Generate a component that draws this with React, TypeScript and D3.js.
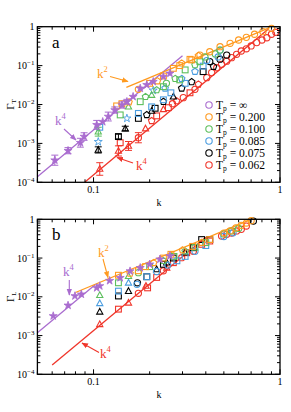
import React from "react";
import * as d3 from "d3";

const W = 291;
const H = 412;
const LEFT = 37.4;
const RIGHT = 280;
const PANELS = [
  { top: 26.7, bottom: 182.3, letter: "a", ylab: "T" },
  { top: 219.3, bottom: 374.3, letter: "b", ylab: "L" },
];

const legendLabels = ["∞", "0.200", "0.100", "0.085", "0.075", "0.062"];
const colors = ["#a96ccf", "#ff9a1f", "#5cbf5c", "#4a9de0", "#000000", "#f0352a"];

// ---- panel a ----
const kPurpleA = [0.062, 0.073, 0.085, 0.089, 0.104, 0.112, 0.12, 0.13, 0.142, 0.151, 0.163, 0.178, 0.193, 0.209, 0.237, 0.257];
const gPurpleA = [3.7e-4, 6.5e-4, 1.04e-3, 1.5e-3, 3.0e-3, 3.6e-3, 4.9e-3, 7.2e-3, 9.7e-3, 0.0118, 0.0159, 0.026, 0.032, 0.0386, 0.052, 0.063];
const sPurpleA = "xxxxxxxxxxxxxxxx";
const ePurpleA = [1.35, 1.2, 1.3, 1.25, 1.3, 0, 1.3, 1.2, 1.2, 1.15, 0, 0, 0, 0, 0, 0];

const kOrangeA = [0.133, 0.142, 0.155, 0.174, 0.2, 0.22, 0.237, 0.268, 0.29, 0.297, 0.329, 0.336, 0.365, 0.372, 0.42, 0.477, 0.54, 0.6, 0.66, 0.73, 0.81, 0.9];
const gOrangeA = [9.2e-3, 0.0105, 0.0115, 0.0245, 0.035, 0.04, 0.054, 0.085, 0.1, 0.115, 0.145, 0.14, 0.18, 0.187, 0.227, 0.306, 0.374, 0.455, 0.533, 0.64, 0.745, 0.91];
const sOrangeA = "sspcspssspsspccccccccc";

const kGreenA = [0.106, 0.139, 0.154, 0.178, 0.19, 0.205, 0.218, 0.237, 0.246, 0.274, 0.29, 0.31, 0.35, 0.372, 0.396, 0.45, 0.477];
const gGreenA = [2.0e-3, 5.4e-3, 8.8e-3, 0.0118, 0.0158, 0.0175, 0.0236, 0.0287, 0.035, 0.046, 0.043, 0.0775, 0.104, 0.126, 0.167, 0.2, 0.25];
const sGreenA = "tstsptpscpsspsccc";
const eGreenA = [1.3];

const kBlueA = [0.106, 0.108, 0.151, 0.174, 0.205, 0.209, 0.237, 0.242, 0.26, 0.297, 0.31, 0.35, 0.387, 0.405, 0.466, 0.477];
const gBlueA = [1.1e-3, 2.6e-3, 4.4e-3, 5.9e-3, 8.7e-3, 0.023, 0.0132, 0.026, 0.02, 0.046, 0.035, 0.07, 0.097, 0.135, 0.167, 0.25];
const sBlueA = "ysyssyspspspsccc";

const kBlackA = [0.106, 0.136, 0.148, 0.174, 0.193, 0.205, 0.214, 0.237, 0.268, 0.297, 0.336, 0.387, 0.42, 0.44, 0.477, 0.518];
const gBlackA = [6.8e-4, 1.5e-3, 2.4e-3, 4.4e-3, 5.4e-3, 6.8e-3, 8e-3, 0.0118, 0.0158, 0.026, 0.038, 0.07, 0.127, 0.094, 0.146, 0.187];
const sBlackA = "tstsptsptppscpcc";
const eBlackA = [1.2, 1.15, 1.15];

const kRedA = [0.108, 0.136, 0.139, 0.154, 0.174, 0.19, 0.205, 0.218, 0.237, 0.252, 0.265, 0.279, 0.303, 0.329, 0.35, 0.365, 0.405, 0.43, 0.458, 0.486, 0.518, 0.55, 0.585, 0.62, 0.66, 0.7, 0.75, 0.8, 0.85, 0.9, 0.95];
const gRedA = [2.2e-4, 6.4e-4, 1.04e-3, 8.6e-4, 1.4e-3, 2.4e-3, 3.8e-3, 5.1e-3, 7.5e-3, 8.3e-3, 0.0105, 0.0123, 0.015, 0.02, 0.0245, 0.033, 0.049, 0.066, 0.088, 0.108, 0.13, 0.16, 0.195, 0.237, 0.27, 0.32, 0.39, 0.455, 0.52, 0.64, 0.72];
const sRedA = "ttstctpstscpcscpccccccccccccccc";
const eRedA = [1.45, 1.35, 0, 1.3, 1.35];

// ---- panel b ----
const kPurpleB = [0.0608, 0.073, 0.0795, 0.086, 0.104, 0.108, 0.122, 0.139, 0.157, 0.178, 0.2, 0.227, 0.257];
const gPurpleB = [3.2e-3, 6e-3, 0.0105, 0.0116, 0.017, 0.019, 0.026, 0.031, 0.046, 0.056, 0.069, 0.093, 0.113];
const sPurpleB = "xxxxxxxxxxxxx";

const kOrangeB = [0.136, 0.157, 0.174, 0.19, 0.21, 0.237, 0.26, 0.3, 0.34, 0.38, 0.42, 0.5, 0.54, 0.58, 0.62, 0.66, 0.7];
const gOrangeB = [0.036, 0.04, 0.047, 0.06, 0.075, 0.1, 0.125, 0.16, 0.2, 0.25, 0.3, 0.44, 0.5, 0.6, 0.7, 0.8, 0.92];
const sOrangeB = "spsspsspspscccccc";

const kGreenB = [0.108, 0.136, 0.154, 0.174, 0.2, 0.237, 0.27, 0.31, 0.35, 0.4, 0.5, 0.55, 0.6];
const gGreenB = [0.011, 0.023, 0.034, 0.042, 0.06, 0.085, 0.11, 0.15, 0.19, 0.25, 0.42, 0.5, 0.58];
const sGreenB = "tstcspspssccc";

const kBlueB = [0.108, 0.136, 0.154, 0.171, 0.193, 0.218, 0.25, 0.28, 0.31, 0.35, 0.4, 0.5, 0.56];
const gBlueB = [0.0068, 0.014, 0.023, 0.021, 0.033, 0.045, 0.065, 0.085, 0.11, 0.15, 0.21, 0.36, 0.45];
const sBlueB = "tstcscpsscscc";

const kBlackB = [0.108, 0.136, 0.154, 0.172, 0.193, 0.218, 0.237, 0.247, 0.268, 0.31, 0.343, 0.38, 0.42, 0.72];
const gBlackB = [0.0041, 0.0105, 0.014, 0.023, 0.033, 0.051, 0.069, 0.076, 0.1, 0.137, 0.185, 0.3, 0.3, 0.9];
const sBlackB = "tstcstststsssc";

const kRedB = [0.108, 0.136, 0.154, 0.174, 0.191, 0.195, 0.218, 0.237, 0.247, 0.268, 0.297, 0.316, 0.343, 0.38, 0.42, 0.486, 0.518, 0.55, 0.585, 0.62, 0.66];
const gRedB = [1.95e-3, 4.8e-3, 7e-3, 0.0123, 0.019, 0.017, 0.0316, 0.047, 0.056, 0.076, 0.102, 0.137, 0.15, 0.226, 0.275, 0.37, 0.41, 0.44, 0.5, 0.55, 0.67];
const sRedB = "tstctssctscscsscccccc";

// power-law guide lines: [colour index, exponent, prefactor, kStart, kEnd]
const guidesA: [number, number, number, number, number][] = [
  [0, 4, 22.2, 0.05, 0.3],
  [1, 2, 1.22, 0.15, 0.88],
  [5, 4, 1.55, 0.09, 0.86],
];
const guidesB: [number, number, number, number, number][] = [
  [0, 4, 190, 0.05, 0.102],
  [1, 2, 2.02, 0.08, 0.7],
  [5, 4, 13.4, 0.06, 0.4],
];

type Series = { c: number; k: number[]; g: number[]; s: string; e?: number[] };

const seriesA: Series[] = [
  { c: 5, k: kRedA, g: gRedA, s: sRedA, e: eRedA },
  { c: 4, k: kBlackA, g: gBlackA, s: sBlackA, e: eBlackA },
  { c: 3, k: kBlueA, g: gBlueA, s: sBlueA },
  { c: 2, k: kGreenA, g: gGreenA, s: sGreenA, e: eGreenA },
  { c: 1, k: kOrangeA, g: gOrangeA, s: sOrangeA },
  { c: 0, k: kPurpleA, g: gPurpleA, s: sPurpleA, e: ePurpleA },
];
const seriesB: Series[] = [
  { c: 5, k: kRedB, g: gRedB, s: sRedB },
  { c: 4, k: kBlackB, g: gBlackB, s: sBlackB },
  { c: 3, k: kBlueB, g: gBlueB, s: sBlueB },
  { c: 2, k: kGreenB, g: gGreenB, s: sGreenB },
  { c: 1, k: kOrangeB, g: gOrangeB, s: sOrangeB },
  { c: 0, k: kPurpleB, g: gPurpleB, s: sPurpleB },
];

// annotations: [colour, text x, text y, arrow x1, y1, x2, y2, exponent]
const notesA: [number, number, number, number, number, number, number, string][] = [
  [1, 97, 78, 110, 76.5, 128, 81.5, "2"],
  [0, 55, 125, 64, 129, 76, 140, "4"],
  [5, 136, 170, 133, 163, 117, 157.5, "4"],
];
const notesB: [number, number, number, number, number, number, number, string][] = [
  [0, 63, 276, 69.3, 280, 69.3, 295, "4"],
  [1, 98, 257, 103, 259, 108, 277.5, "2"],
  [5, 100, 358, 99, 352.5, 82, 343, "4"],
];

const FONT = "'Liberation Serif', 'DejaVu Serif', serif";
const x = d3.scaleLog().domain([0.05, 1]).range([LEFT, RIGHT]);
const starPath = d3.symbol(d3.symbolStar, 20)()!;

function pentagon(r: number) {
  return d3.range(5).map((i) => {
    const a = -Math.PI / 2 + (i * 2 * Math.PI) / 5;
    return `${(r * Math.cos(a)).toFixed(2)},${(r * Math.sin(a)).toFixed(2)}`;
  }).join(" ");
}

function Mark({ shape, cx, cy, color }: { shape: string; cx: number; cy: number; color: string }) {
  const st = { fill: "none", stroke: color, strokeWidth: 1.1 };
  const t = `translate(${cx},${cy})`;
  if (shape === "c") return <circle cx={cx} cy={cy} r={3.1} {...st} />;
  if (shape === "s") return <rect x={cx - 2.9} y={cy - 2.9} width={5.8} height={5.8} {...st} />;
  if (shape === "p") return <polygon transform={t} points={pentagon(3.4)} {...st} />;
  if (shape === "t") return <polygon transform={t} points="0,-3.4 3.1,2.3 -3.1,2.3" {...st} />;
  if (shape === "y") return <path transform={t} d={starPath} {...st} strokeWidth={0.9} />;
  return <path transform={t} d={starPath} fill={color} stroke={color} strokeWidth={0.8} />;
}

function Panel({ p, series, guides, notes, legend }: any) {
  const y = d3.scaleLog().domain([1e-4, 1]).range([p.bottom, p.top]);
  const xt = x.ticks();
  const yt = y.ticks();
  const isMajor = (v: number) => Math.abs(Math.log10(v) - Math.round(Math.log10(v))) < 1e-6;
  return (
    <g fontFamily={FONT}>
      {guides.map(([c, n, a, k0, k1]: number[], i: number) => (
        <line key={"g" + i} x1={x(k0)} y1={y(a * Math.pow(k0, n))} x2={x(k1)} y2={y(a * Math.pow(k1, n))}
          stroke={colors[c]} strokeWidth={1.3} />
      ))}
      {series.map((s: Series, si: number) => (
        <g key={"s" + si}>
          {s.k.map((k, i) => {
            const e = s.e && s.e[i];
            const cx = x(k);
            const cy = y(s.g[i]);
            return (
              <g key={i}>
                {e ? (
                  <g stroke={colors[s.c]} strokeWidth={1}>
                    <line x1={cx} x2={cx} y1={y(s.g[i] / e)} y2={y(s.g[i] * e)} />
                    <line x1={cx - 3.5} x2={cx + 3.5} y1={y(s.g[i] / e)} y2={y(s.g[i] / e)} />
                    <line x1={cx - 3.5} x2={cx + 3.5} y1={y(s.g[i] * e)} y2={y(s.g[i] * e)} />
                  </g>
                ) : null}
                <Mark shape={s.s[i]} cx={cx} cy={cy} color={colors[s.c]} />
              </g>
            );
          })}
        </g>
      ))}
      {notes.map(([c, tx, ty, x1, y1, x2, y2, ex]: any[], i: number) => (
        <g key={"n" + i} fill={colors[c]} stroke="none">
          <text x={tx} y={ty} fontSize={13}>k<tspan fontSize={8.5} dy={-6}>{ex}</tspan></text>
          <line x1={x1} y1={y1} x2={x2} y2={y2} stroke={colors[c]} strokeWidth={1.1} markerEnd={`url(#ah${c})`} />
        </g>
      ))}
      <rect x={LEFT} y={p.top} width={RIGHT - LEFT} height={p.bottom - p.top} fill="none" stroke="#000" strokeWidth={1.3} />
      {xt.map((v, i) => {
        const len = isMajor(v) ? 5 : 3;
        return (
          <g key={"xt" + i} stroke="#000" strokeWidth={1}>
            <line x1={x(v)} x2={x(v)} y1={p.bottom} y2={p.bottom - len} />
            <line x1={x(v)} x2={x(v)} y1={p.top} y2={p.top + len} />
          </g>
        );
      })}
      {yt.map((v, i) => {
        const len = isMajor(v) ? 5 : 3;
        return (
          <g key={"yt" + i} stroke="#000" strokeWidth={1}>
            <line x1={LEFT} x2={LEFT + len} y1={y(v)} y2={y(v)} />
            <line x1={RIGHT} x2={RIGHT - len} y1={y(v)} y2={y(v)} />
          </g>
        );
      })}
      {xt.filter(isMajor).filter((v) => v >= 0.1).map((v, i) => (
        <text key={"xl" + i} x={x(v)} y={p.bottom + 11} fontSize={10} textAnchor="middle">
          {v === 1 ? "1" : "0.1"}
        </text>
      ))}
      {yt.filter(isMajor).map((v, i) => {
        const e = Math.round(Math.log10(v));
        return (
          <text key={"yl" + i} x={LEFT - 3} y={y(v) + 3.5} fontSize={10} textAnchor="end">
            {e === 0 ? "1" : <>10<tspan fontSize={7} dy={-4}>{"\u2212" + -e}</tspan></>}
          </text>
        );
      })}
      <text x={159} y={p.bottom + 24} fontSize={10} textAnchor="middle">k</text>
      <text transform={`translate(14,${(p.top + p.bottom) / 2}) rotate(-90)`} fontSize={11} textAnchor="middle">
        Γ<tspan fontSize={7} dy={2}>{p.ylab}</tspan>
      </text>
      <text x={52} y={p.top + 21} fontSize={17}>{p.letter}</text>
      {legend
        ? legendLabels.map((lab, i) => (
            <g key={"lg" + i}>
              <circle cx={209} cy={105 + i * 12} r={3.2} fill="none" stroke={colors[i]} strokeWidth={1.1} />
              <text x={216} y={109 + i * 12} fontSize={11.5}>
                T<tspan fontSize={7.5} dy={2}>p</tspan><tspan dy={-2}>{" = " + lab}</tspan>
              </text>
            </g>
          ))
        : null}
    </g>
  );
}

export default function App() {
  return (
    <svg width={W} height={H} viewBox={`0 0 ${W} ${H}`} style={{ position: "absolute", left: 0, top: 0, background: "#fff" }}>
      <defs>
        {colors.map((c, i) => (
          <marker key={i} id={`ah${i}`} viewBox="0 0 10 10" refX={9} refY={5} markerWidth={6} markerHeight={6} orient="auto">
            <path d="M0,1 L10,5 L0,9 z" fill={c} />
          </marker>
        ))}
      </defs>
      <rect width={W} height={H} fill="#fff" />
      <Panel p={PANELS[0]} series={seriesA} guides={guidesA} notes={notesA} legend />
      <Panel p={PANELS[1]} series={seriesB} guides={guidesB} notes={notesB} legend={false} />
    </svg>
  );
}
